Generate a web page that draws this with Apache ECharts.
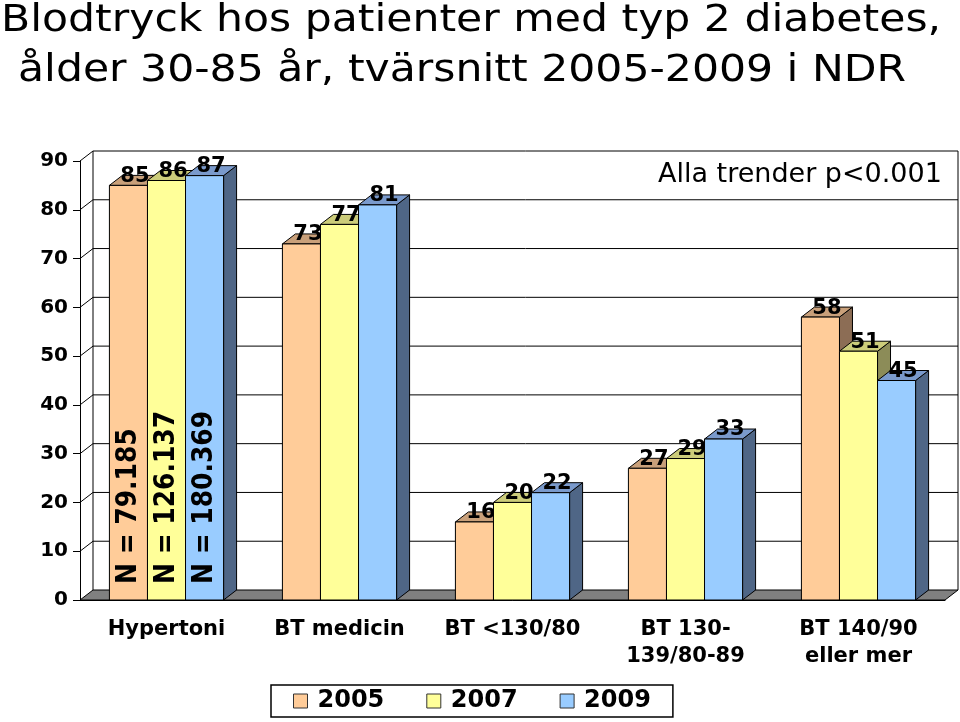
<!DOCTYPE html>
<html>
<head>
<meta charset="utf-8">
<script src="https://cdn.jsdelivr.net/npm/echarts@6/dist/echarts.min.js"></script>
<style>
  html, body { margin: 0; padding: 0; background: #fff; }
</style>
</head>
<body>
<div id="chart" style="width:960px;height:722px;"></div>
<script>
// data
var categories = ['Hypertoni', 'BT medicin', 'BT <130/80', 'BT 130-\n139/80-89', 'BT 140/90\neller mer'];
var years = ['2005', '2007', '2009'];
var values2005 = [85, 73, 16, 27, 58];
var values2007 = [86, 77, 20, 29, 51];
var values2009 = [87, 81, 22, 33, 45];
var nLabels = ['N = 79.185', 'N = 126.137', 'N = 180.369'];
var yTicks = [0, 10, 20, 30, 40, 50, 60, 70, 80, 90];

// colours: front, top, side
var faceColors = [
  ['#FFCC99', '#C9A07A', '#8C6D55'],
  ['#FFFF99', '#CCCC7A', '#8C8C58'],
  ['#99CCFF', '#7A9ACC', '#4F6686']
];

var DX = 13, DY = -10;   // depth of the 3D look
var FONT = 'DejaVu Sans';

var myChart = echarts.init(document.getElementById('chart'));

// back wall, side wall, floor
function renderFrame(params, api) {
  var cs = params.coordSys;
  var v = api.value(1);
  var y = api.coord([0, v])[1];
  var x0 = cs.x, x1 = cs.x + cs.width;
  var line = { stroke: '#000', lineWidth: 1 };
  var children = [];
  if (v === 0) {
    children.push({
      type: 'polygon',
      shape: { points: [[x0, y], [x1, y], [x1 + DX, y + DY], [x0 + DX, y + DY]] },
      style: { fill: '#808080', stroke: '#000', lineWidth: 1 }
    });
    var yTop = api.coord([0, yTicks[yTicks.length - 1]])[1];
    children.push({ type: 'line', shape: { x1: x0 + DX, y1: yTop + DY, x2: x0 + DX, y2: y + DY }, style: line });
    children.push({ type: 'line', shape: { x1: x1 + DX, y1: yTop + DY, x2: x1 + DX, y2: y + DY }, style: line });
  } else {
    children.push({ type: 'line', shape: { x1: x0 + DX, y1: y + DY, x2: x1 + DX, y2: y + DY }, style: line });
    children.push({ type: 'line', shape: { x1: x0, y1: y, x2: x0 + DX, y2: y + DY }, style: line });
  }
  return { type: 'group', children: children };
}

function makeBarRenderer(k) {
  return function (params, api) {
    var idx = api.value(0);
    var val = api.value(1);
    var base = api.coord([idx, 0]);
    var top = api.coord([idx, val]);
    var bw = api.size([1, 0])[0] * 0.22;
    var xL = base[0] - 1.5 * bw + k * bw;
    var xR = xL + bw;
    var y0 = base[1], yT = top[1];
    var c = faceColors[k];
    var edge = { stroke: '#000', lineWidth: 1 };
    var children = [
      {
        type: 'polygon',
        shape: { points: [[xR, yT], [xR + DX, yT + DY], [xR + DX, y0 + DY], [xR, y0]] },
        style: Object.assign({ fill: c[2] }, edge)
      },
      {
        type: 'polygon',
        shape: { points: [[xL, yT], [xR, yT], [xR + DX, yT + DY], [xL + DX, yT + DY]] },
        style: Object.assign({ fill: c[1] }, edge)
      },
      {
        type: 'rect',
        shape: { x: xL, y: yT, width: bw, height: y0 - yT },
        style: Object.assign({ fill: c[0] }, edge)
      },
      {
        type: 'text',
        x: xL + bw / 2 + DX / 2,
        y: yT + DY + 1,
        style: {
          text: String(val), fill: '#000',
          font: 'bold 21px "' + FONT + '"',
          align: 'center', verticalAlign: 'middle'
        },
        z2: 10
      }
    ];
    if (idx === 0) {
      // sample sizes, written upward inside the first group
      children.push({
        type: 'text',
        x: xL + bw / 2,
        y: y0 - 16,
        rotation: Math.PI / 2,
        scaleY: 1.1,
        style: {
          text: nLabels[k], fill: '#000',
          font: 'bold 25px "' + FONT + '"',
          align: 'left', verticalAlign: 'middle'
        },
        z2: 10
      });
    }
    return { type: 'group', children: children };
  };
}

var allValues = [values2005, values2007, values2009];
var series = [{
  type: 'custom',
  name: 'frame',
  renderItem: renderFrame,
  data: yTicks.map(function (v) { return [0, v]; }),
  encode: { x: 0, y: 1 },
  silent: true,
  z: 1
}];
years.forEach(function (yr, k) {
  series.push({
    type: 'custom',
    name: yr,
    renderItem: makeBarRenderer(k),
    itemStyle: { color: faceColors[k][0] },
    data: allValues[k].map(function (v, i) { return [i, v]; }),
    encode: { x: 0, y: 1 },
    z: 2 + k
  });
});

var option = {
  animation: false,
  backgroundColor: '#fff',
  graphic: [
    {
      type: 'text', x: 1, y: 3, scaleX: 1.15,
      style: { text: 'Blodtryck hos patienter med typ 2 diabetes,', font: '37px "' + FONT + '"', fill: '#000', verticalAlign: 'top' }
    },
    {
      type: 'text', x: 18, y: 53, scaleX: 1.15,
      style: { text: 'ålder 30-85 år, tvärsnitt 2005-2009 i NDR', font: '37px "' + FONT + '"', fill: '#000', verticalAlign: 'top' }
    },
    {
      type: 'text', x: 658, y: 161,
      style: { text: 'Alla trender p<0.001', font: '27px "' + FONT + '"', fill: '#000', verticalAlign: 'top' }
    }
  ],
  legend: {
    data: years,
    left: 271, top: 685,
    padding: [4, 22, 4, 22],
    itemGap: 42,
    itemWidth: 14, itemHeight: 14,
    icon: 'rect',
    borderColor: '#000', borderWidth: 1.5,
    itemStyle: { borderColor: '#333', borderWidth: 1 },
    textStyle: { fontFamily: FONT, fontWeight: 'bold', fontSize: 24, color: '#000', padding: [0, 0, 0, 5] }
  },
  grid: { left: 80, right: 15, top: 161, bottom: 122, containLabel: false },
  xAxis: {
    type: 'category',
    data: categories,
    axisLine: { lineStyle: { color: '#000', width: 1 } },
    axisTick: { length: 6, lineStyle: { color: '#000' } },
    axisLabel: {
      interval: 0, margin: 16, lineHeight: 27,
      fontFamily: FONT, fontWeight: 'bold', fontSize: 21, color: '#000'
    },
    splitLine: { show: false }
  },
  yAxis: {
    type: 'value',
    min: 0, max: 90, interval: 10,
    axisLine: { show: true, lineStyle: { color: '#000', width: 1 } },
    axisTick: { show: true, length: 7, lineStyle: { color: '#000' } },
    axisLabel: { margin: 12, fontFamily: FONT, fontWeight: 'bold', fontSize: 20, color: '#000' },
    splitLine: { show: false }
  },
  series: series
};

myChart.setOption(option);
</script>
</body>
</html>
